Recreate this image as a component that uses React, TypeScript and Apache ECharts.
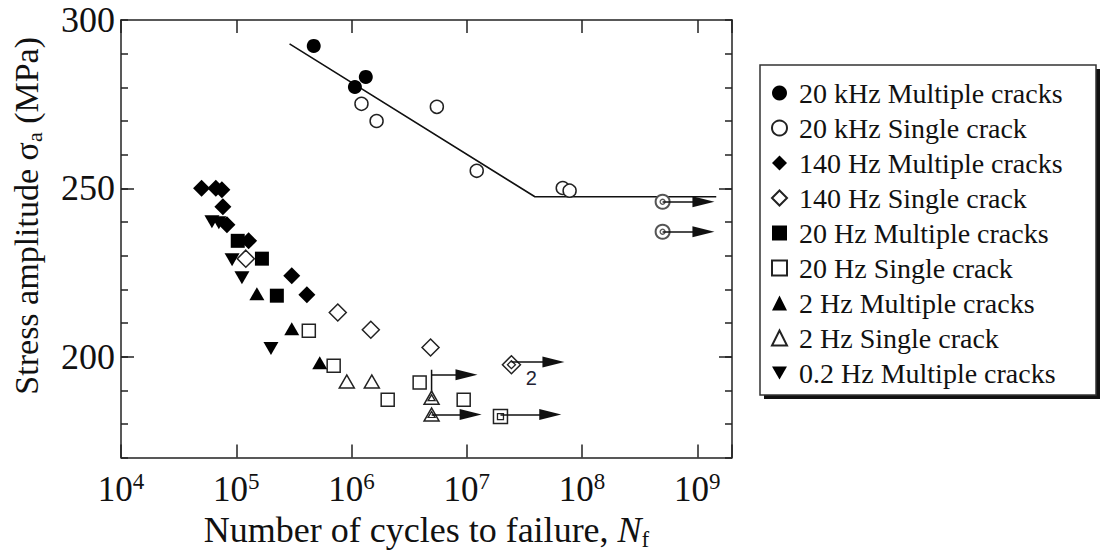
import React, { useEffect, useRef } from 'react';
import * as echarts from 'echarts';

// ---- data (N cycles, stress amplitude MPa) ----
const kHz20Multiple: number[][] = [[4.7e5, 292.3], [1.07e6, 280.1], [1.33e6, 283.1]];
const kHz20Single: number[][] = [[1.22e6, 275.1], [1.65e6, 270.0], [5.5e6, 274.2], [1.22e7, 255.2], [6.8e7, 250.1], [7.8e7, 249.3]];
const kHz20SingleRunout: number[][] = [[5e8, 246.0], [5e8, 237.1]];
const hz140Multiple: number[][] = [[5.0e4, 250], [6.65e4, 250], [7.5e4, 249.6], [7.65e4, 244.5], [8.3e4, 239.2], [1.28e5, 234.4], [3.03e5, 224.0], [4.1e5, 218.4]];
const hz140Single: number[][] = [[1.21e5, 229.1], [7.6e5, 213.1], [1.47e6, 208.0], [4.85e6, 202.7]];
const hz140SingleRunout: number[][] = [[2.44e7, 197.6]];
const hz140SingleRunoutCount: string[] = ['2'];
const hz20Multiple: number[][] = [[1.03e5, 234.4], [1.67e5, 229.1], [2.25e5, 218.1]];
const hz20Single: number[][] = [[4.26e5, 207.7], [7.0e5, 197.3], [2.06e6, 187.2], [3.9e6, 192.3], [9.4e6, 187.2]];
const hz20SingleRunout: number[][] = [[1.96e7, 182.2]];
const hz2Multiple: number[][] = [[1.51e5, 218.7], [3.03e5, 208.3], [5.3e5, 198.2]];
const hz2Single: number[][] = [[9.1e5, 192.6], [1.5e6, 192.6]];
const hz2SingleRunout: number[][] = [[4.95e6, 187.8], [4.95e6, 182.8]];
const hz02Multiple: number[][] = [[6.15e4, 240.1], [7.06e4, 239.8], [9.2e4, 228.8], [1.12e5, 223.4], [2.0e5, 202.4]];
const fitLine: number[][] = [[2.9e5, 292.9], [3.9e7, 247.5], [1.46e9, 247.5]];
// [start N, arrow-head N, stress]
const runoutArrows: number[][] = [[5e8, 1.13e9, 246.0], [5e8, 1.13e9, 237.1], [2.44e7, 5.65e7, 198.4], [1.96e7, 5.3e7, 182.8], [4.95e6, 9.95e6, 194.6], [4.95e6, 1.08e7, 182.8]];
const retestLink: number[][] = [[4.95e6, 187.8], [4.95e6, 196.1]];

const legendNames: string[] = [
  '20 kHz Multiple cracks', '20 kHz Single crack', '140 Hz Multiple cracks', '140 Hz Single crack',
  '20 Hz Multiple cracks', '20 Hz Single crack', '2 Hz Multiple cracks', '2 Hz Single crack', '0.2 Hz Multiple cracks',
];
const xMin = 1e4;
const xMax = 2e9;
const yMin = 170;
const yMax = 300;
const yStep = 10;
const yLabelValues: number[] = [200, 250, 300];
const yMajorTicks: number[] = [200, 250];

const FONT = "'Liberation Serif', 'Times New Roman', serif";
const INK = '#111';
const DOWN_TRI = 'path://M0,0L16,0L8,14Z';

export default function App() {
  const ref = useRef<HTMLDivElement>(null);
  useEffect(() => {
    if (!ref.current) return;
    const chart = echarts.init(ref.current, undefined, { renderer: 'svg' });
    const axisLineStyle = { color: '#222', width: 1.5 };
    const filled = { color: '#000', opacity: 1 };
    const open = { color: '#fff', borderColor: '#222', borderWidth: 1.5, opacity: 1 };
    const grayOpen = { color: '#fff', borderColor: '#555', borderWidth: 2, opacity: 1 };
    const inner = { color: '#fff', borderColor: '#222', borderWidth: 1.3, opacity: 1 };

    const scatter = (name: string, data: any[], symbol: string, size: any, style: any, extra: any = {}) => ({
      name, type: 'scatter', data, symbol, symbolSize: size, itemStyle: style, z: 3, ...extra,
    });

    const xBase: any = {
      type: 'log', logBase: 10, min: xMin, max: xMax,
      splitLine: { show: false },
      axisLine: { onZero: false, lineStyle: axisLineStyle },
      axisTick: { inside: true, length: 13, lineStyle: axisLineStyle },
    };
    const yBase: any = {
      type: 'value', min: yMin, max: yMax, interval: yStep,
      splitLine: { show: false },
      axisLine: { show: true, onZero: false, lineStyle: axisLineStyle },
      axisTick: { inside: true, length: 7, lineStyle: axisLineStyle },
    };

    const option: any = {
      animation: false,
      backgroundColor: '#fff',
      grid: { left: 121, top: 20, right: 373, bottom: 98, containLabel: false },
      xAxis: [
        {
          ...xBase, position: 'bottom',
          axisLabel: {
            margin: 12,
            formatter: (v: number) => {
              const e = Math.log10(v);
              if (Math.abs(e - Math.round(e)) > 1e-6) return '';
              return `{b|10}{s|${Math.round(e)}}`;
            },
            rich: {
              b: { fontFamily: FONT, fontSize: 35, color: INK, lineHeight: 40 },
              s: { fontFamily: FONT, fontSize: 23, color: INK, verticalAlign: 'top', lineHeight: 24 },
            },
          },
          name: '{t|Number of cycles to failure, }{i|N}{f|f}',
          nameLocation: 'middle', nameGap: 51,
          nameTextStyle: {
            rich: {
              t: { fontFamily: FONT, fontSize: 36, color: INK, lineHeight: 42 },
              i: { fontFamily: FONT, fontSize: 36, color: INK, fontStyle: 'italic', lineHeight: 42 },
              f: { fontFamily: FONT, fontSize: 23, color: INK, verticalAlign: 'bottom', lineHeight: 23 },
            },
          },
        },
        { ...xBase, position: 'top', axisLabel: { show: false } },
      ],
      yAxis: [
        {
          ...yBase, position: 'left',
          axisLabel: {
            margin: 6, fontFamily: FONT, fontSize: 36, color: INK,
            formatter: (v: number) => (yLabelValues.indexOf(v) >= 0 ? String(v) : ''),
          },
          name: '{t|Stress amplitude σ}{s|a}{t| (MPa)}',
          nameLocation: 'middle', nameGap: 76, nameRotate: 90,
          nameTextStyle: {
            padding: [0, 0, 0, 46],
            rich: {
              t: { fontFamily: FONT, fontSize: 34, color: INK, lineHeight: 38 },
              s: { fontFamily: FONT, fontSize: 22, color: INK, verticalAlign: 'bottom', lineHeight: 22 },
            },
          },
        },
        { ...yBase, position: 'right', axisLabel: { show: false } },
        {
          ...yBase, position: 'left', axisLine: { show: false }, axisLabel: { show: false },
          axisTick: { inside: true, length: 13, lineStyle: axisLineStyle, customValues: yMajorTicks },
        },
        {
          ...yBase, position: 'right', axisLine: { show: false }, axisLabel: { show: false },
          axisTick: { inside: true, length: 13, lineStyle: axisLineStyle, customValues: yMajorTicks },
        },
      ],
      legend: {
        orient: 'vertical', left: 771, top: 78, padding: 0, itemGap: 5,
        itemWidth: 15, itemHeight: 15, data: legendNames,
        textStyle: { fontFamily: FONT, fontSize: 28, color: INK, lineHeight: 30, padding: [0, 0, 0, 7] },
      },
      graphic: [
        { type: 'rect', z: 0, shape: { x: 764, y: 69, width: 336, height: 330 }, style: { fill: '#111' } },
        { type: 'rect', z: 0, shape: { x: 760, y: 65, width: 336, height: 330 }, style: { fill: '#fff', stroke: '#333', lineWidth: 1.5 } },
      ],
      series: [
        {
          name: 'fit', type: 'line', data: fitLine, symbol: 'none', z: 1,
          lineStyle: { color: '#111', width: 1.6 },
          markLine: {
            silent: true, symbol: ['none', 'triangle'], symbolSize: [0, 14],
            lineStyle: { color: '#111', width: 1.5, type: 'solid' },
            label: { show: false },
            data: runoutArrows.map(([a, b, s]) => [
              { coord: [a, s] },
              { coord: [b, s], symbolSize: [11, 22] },
            ]),
          },
        },
        {
          name: 'retest', type: 'line', data: retestLink, symbol: 'none', z: 1,
          lineStyle: { color: '#111', width: 1.5 },
        },
        scatter(legendNames[0], kHz20Multiple, 'circle', 14, filled),
        scatter(legendNames[1], kHz20Single, 'circle', 13, open),
        scatter(legendNames[2], hz140Multiple, 'diamond', [17, 17], filled),
        scatter(legendNames[3], hz140Single, 'diamond', [17, 17], open),
        scatter(legendNames[4], hz20Multiple, 'rect', 14, filled),
        scatter(legendNames[5], hz20Single, 'rect', 13, open),
        scatter(legendNames[6], hz2Multiple, 'triangle', [15, 13], filled),
        scatter(legendNames[7], hz2Single, 'triangle', [15, 13], open),
        scatter(legendNames[8], hz02Multiple, DOWN_TRI, [15, 13], filled),
        // run-outs (double markers)
        scatter('r1o', kHz20SingleRunout, 'circle', 14, grayOpen),
        scatter('r1i', kHz20SingleRunout, 'circle', 5, { ...inner, borderColor: '#555' }, { z: 4 }),
        scatter('r2o', hz140SingleRunout.map((p, i) => ({
          value: p,
          label: {
            show: true, formatter: hz140SingleRunoutCount[i], position: 'inside', offset: [20, 13],
            fontFamily: "'Liberation Sans', Arial, sans-serif", fontSize: 20, color: '#223',
          },
        })), 'diamond', [18, 18], open),
        scatter('r2i', hz140SingleRunout, 'diamond', [8, 8], inner, { z: 4 }),
        scatter('r3o', hz20SingleRunout, 'rect', 14, open),
        scatter('r3i', hz20SingleRunout, 'rect', 6, inner, { z: 4 }),
        scatter('r4o', hz2SingleRunout, 'triangle', [15, 13], open),
        scatter('r4i', hz2SingleRunout, 'triangle', [7, 6], inner, { z: 4 }),
      ],
    };
    chart.setOption(option);
    return () => chart.dispose();
  }, []);
  return (
    <div
      ref={ref}
      style={{ position: 'fixed', left: 0, top: 0, width: 1105, height: 556, background: '#fff' }}
    />
  );
}
